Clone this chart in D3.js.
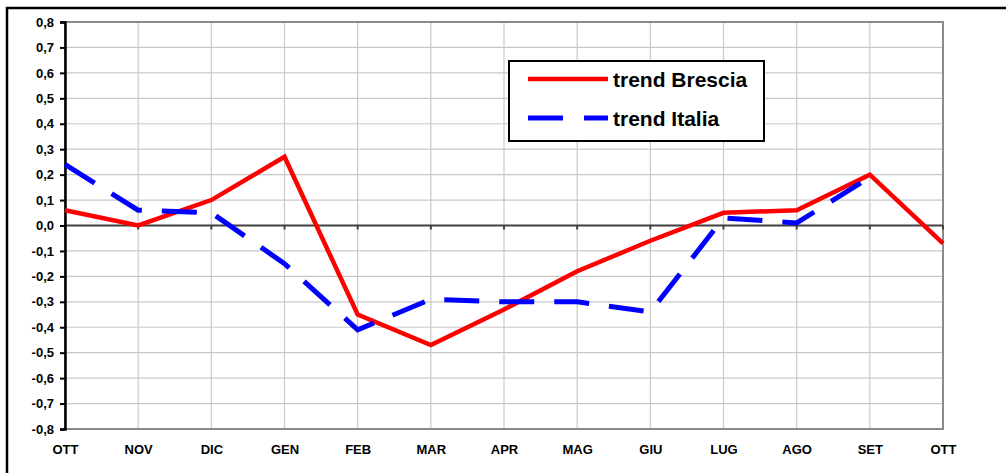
<!DOCTYPE html>
<html>
<head>
<meta charset="utf-8">
<script src="https://cdn.jsdelivr.net/npm/d3@7"></script>
<style>
  body { margin: 0; background: #fff; }
  svg { display: block; font-family: "Liberation Sans", Arial, sans-serif; }
  .tick text { font-weight: bold; font-size: 13px; fill: #000; }
</style>
</head>
<body>
<div id="chart"></div>
<script>
// months shown on the x axis (the year wraps back to OTT)
const months = ['OTT', 'NOV', 'DIC', 'GEN', 'FEB', 'MAR', 'APR', 'MAG', 'GIU', 'LUG', 'AGO', 'SET', 'OTT'];
const brescia = [0.06, 0.00, 0.10, 0.27, -0.35, -0.47, -0.33, -0.18, -0.06, 0.05, 0.06, 0.20, -0.07];
const italia = [0.24, 0.06, 0.05, -0.15, -0.41, -0.29, -0.30, -0.30, -0.34, 0.03, 0.01, 0.19];
const yTicks = d3.range(-8, 9).map(d => d / 10);
const seriesNames = ['trend Brescia', 'trend Italia'];

const width = 1006, height = 473;
const margin = {top: 22, right: 63, bottom: 44, left: 65};
const plotW = width - margin.left - margin.right;
const plotH = height - margin.top - margin.bottom;

const svg = d3.select('#chart').append('svg')
    .attr('width', width)
    .attr('height', height);

// outer frame, right and bottom edges run off the picture
svg.append('rect')
    .attr('x', 7).attr('y', 8)
    .attr('width', 1010).attr('height', 480)
    .attr('fill', 'none')
    .attr('stroke', '#000')
    .attr('stroke-width', 2.5);

const g = svg.append('g').attr('transform', `translate(${margin.left},${margin.top})`);

const x = d3.scalePoint().domain(d3.range(months.length)).range([0, plotW]);
const y = d3.scaleLinear().domain([-0.8, 0.8]).range([plotH, 0]);

// gridlines
g.append('g').selectAll('line.h').data(yTicks).join('line')
    .attr('x1', 0).attr('x2', plotW)
    .attr('y1', d => y(d)).attr('y2', d => y(d))
    .attr('stroke', '#c8c8c8').attr('stroke-width', 1.2);
g.append('g').selectAll('line.v').data(d3.range(months.length)).join('line')
    .attr('x1', d => x(d)).attr('x2', d => x(d))
    .attr('y1', 0).attr('y2', plotH)
    .attr('stroke', '#c8c8c8').attr('stroke-width', 1.2);

// plot frame (grey)
g.append('rect')
    .attr('x', 0).attr('y', 0)
    .attr('width', plotW).attr('height', plotH)
    .attr('fill', 'none')
    .attr('stroke', '#8a8a8a')
    .attr('stroke-width', 2);

// zero line with small ticks under each month
g.append('line')
    .attr('x1', 0).attr('x2', plotW)
    .attr('y1', y(0)).attr('y2', y(0))
    .attr('stroke', '#404040').attr('stroke-width', 2);
g.append('g').selectAll('line').data(d3.range(months.length)).join('line')
    .attr('x1', d => x(d)).attr('x2', d => x(d))
    .attr('y1', y(0)).attr('y2', y(0) + 4)
    .attr('stroke', '#404040').attr('stroke-width', 2);

// y axis
const yAxis = d3.axisLeft(y)
    .tickValues(yTicks)
    .tickSize(5)
    .tickPadding(6)
    .tickFormat(d => d3.format('.1f')(d).replace('.', ',').replace('−', '-'));
g.append('g').call(yAxis)
    .call(s => s.select('.domain').attr('stroke', '#000').attr('stroke-width', 2.5))
    .call(s => s.selectAll('.tick line').attr('stroke', '#000').attr('stroke-width', 2));

// x labels (below the plot, not on zero line)
const xAxis = d3.axisBottom(x).tickSize(0).tickPadding(16).tickFormat(i => months[i]);
g.append('g').attr('transform', `translate(0,${plotH})`).call(xAxis)
    .call(s => s.select('.domain').remove());

const line = d3.line().x((d, i) => x(i)).y(d => y(d));

g.append('path').datum(brescia)
    .attr('d', line)
    .attr('fill', 'none')
    .attr('stroke', '#ff0000')
    .attr('stroke-width', 4.5)
    .attr('stroke-linejoin', 'miter');

g.append('path').datum(italia)
    .attr('d', line)
    .attr('fill', 'none')
    .attr('stroke', '#0000ff')
    .attr('stroke-width', 5)
    .attr('stroke-dasharray', '35,20');

// legend
const legend = svg.append('g').attr('transform', 'translate(509,61)');
legend.append('rect')
    .attr('width', 255).attr('height', 80)
    .attr('fill', '#fff')
    .attr('stroke', '#000')
    .attr('stroke-width', 2);
const items = legend.selectAll('g.item').data(seriesNames).join('g')
    .attr('transform', (d, i) => `translate(0,${18 + i * 39})`);
items.append('line')
    .attr('x1', 19).attr('x2', 99)
    .attr('stroke', (d, i) => i === 0 ? '#ff0000' : '#0000ff')
    .attr('stroke-width', (d, i) => i === 0 ? 4.5 : 5)
    .attr('stroke-dasharray', (d, i) => i === 0 ? null : '35,21');
items.append('text')
    .attr('x', 104).attr('y', 8)
    .attr('font-size', 21)
    .attr('font-weight', 'bold')
    .text(d => d);
</script>
</body>
</html>
